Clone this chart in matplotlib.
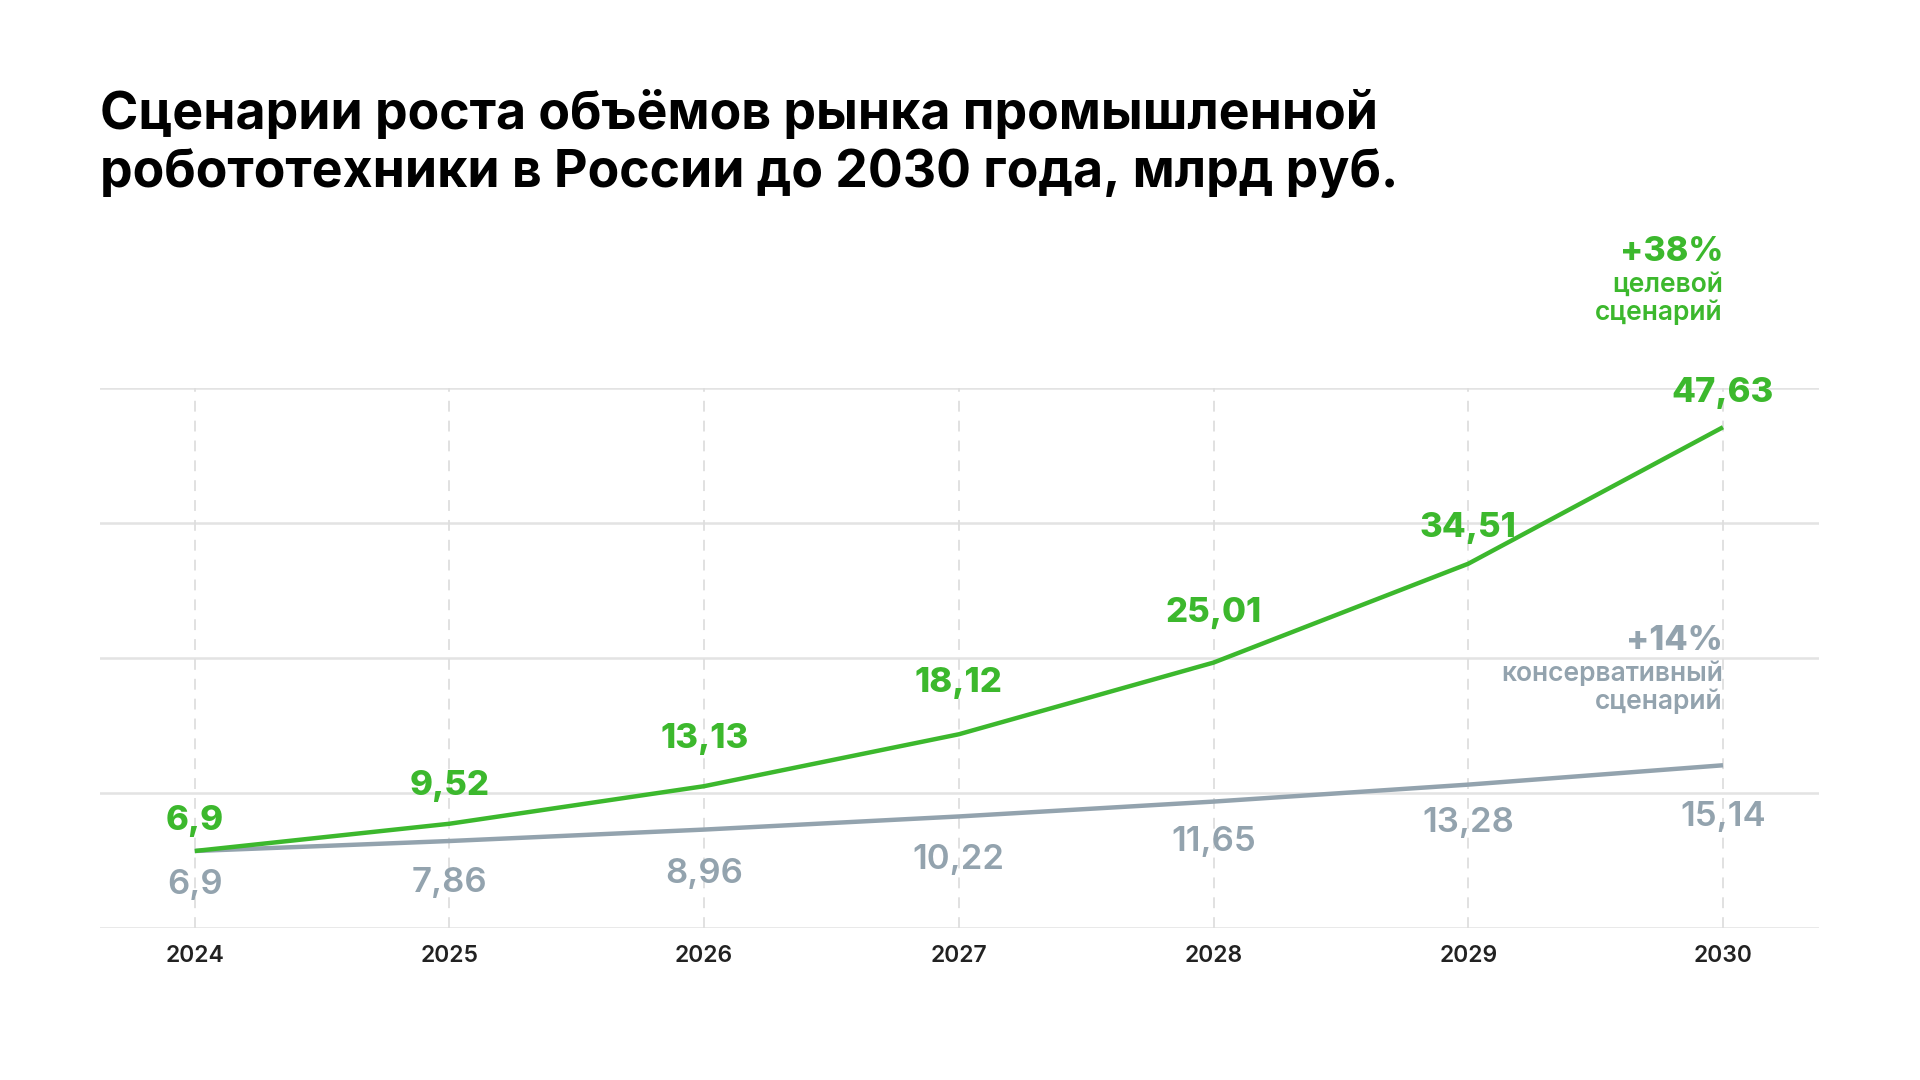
import numpy as np
import matplotlib
matplotlib.use("Agg")
import matplotlib.pyplot as plt

# data
years = [2024, 2025, 2026, 2027, 2028, 2029, 2030]
target = [6.9, 9.52, 13.13, 18.12, 25.01, 34.51, 47.63]
conservative = [6.9, 7.86, 8.96, 10.22, 11.65, 13.28, 15.14]
target_labels = ["6,9", "9,52", "13,13", "18,12", "25,01", "34,51", "47,63"]
cons_labels = ["6,9", "7,86", "8,96", "10,22", "11,65", "13,28", "15,14"]

title_lines = ["Сценарии роста объёмов рынка промышленной",
               "робототехники в России до 2030 года, млрд руб."]

GREEN = "#3cb82d"
GRAY = "#93a3ae"
GRID = "#e3e3e3"
DARK = "#222222"

plt.rcParams['font.family'] = ['Inter', 'DejaVu Sans']

fig = plt.figure(figsize=(19.2, 10.8), dpi=100)
ax = fig.add_axes([100/1920, 1 - 928/1080, 1719/1920, 540/1080])

ax.set_xlim(2023.628, 2030.377)
ylo, yhi = -0.5, 51.4
ax.set_ylim(ylo, yhi)

# horizontal grid + dashed verticals
for y in np.linspace(ylo, yhi, 5):
    ax.axhline(y, color=GRID, lw=1.8, zorder=0)
for x in years:
    ax.axvline(x, color="#dedede", lw=1.3, ls=(0, (6, 5)), zorder=0)

ax.plot(years, target, color=GREEN, lw=3.2, solid_capstyle='butt', zorder=3)
ax.plot(years, conservative, color=GRAY, lw=3.2, solid_capstyle='butt', zorder=2)

# label offsets in points (above green / below gray)
green_dy = [21.5, 27.5, 34, 37, 36, 26, 25]
gray_dy = [24.5, 30, 32, 31, 29, 27.5, 37.5]

for x, y, s, d in zip(years, target, target_labels, green_dy):
    ax.annotate(s, (x, y), xytext=(0, d), textcoords='offset points',
                ha='center', va='center', fontsize=25, fontweight='heavy',
                color=GREEN, annotation_clip=False, zorder=4)
for x, y, s, d in zip(years, conservative, cons_labels, gray_dy):
    ax.annotate(s, (x, y), xytext=(0, -d), textcoords='offset points',
                ha='center', va='center', fontsize=25, fontweight='semibold',
                color=GRAY, annotation_clip=False, zorder=4)

# scenario notes, right-aligned on last year
notes = [
    ("+38%", target[-1], 126, 24.5, 'heavy', GREEN),
    ("целевой", target[-1], 102.5, 19, 'semibold', GREEN),
    ("сценарий", target[-1], 82.5, 19, 'semibold', GREEN),
    ("+14%", conservative[-1], 89.5, 24.5, 'heavy', GRAY),
    ("консервативный", conservative[-1], 66, 19, 'semibold', GRAY),
    ("сценарий", conservative[-1], 45.5, 19, 'semibold', GRAY),
]
for s, yv, d, fs, fw, c in notes:
    ax.annotate(s, (years[-1], yv), xytext=(0, d), textcoords='offset points',
                ha='right', va='center', fontsize=fs, fontweight=fw, color=c,
                annotation_clip=False)

ax.set_xticks(years)
ax.set_xticklabels([str(y) for y in years], fontsize=16.5, fontweight='semibold', color=DARK)
ax.tick_params(axis='x', length=0, pad=12)
ax.set_yticks([])
for sp in ax.spines.values():
    sp.set_visible(False)

for i, line in enumerate(title_lines):
    fig.text(100/1920, 1 - (129 + 57.5*i)/1080, line, ha='left', va='baseline',
             fontsize=37.3, fontweight='bold', color='black')

fig.savefig("out.png", dpi=100, facecolor='white')
